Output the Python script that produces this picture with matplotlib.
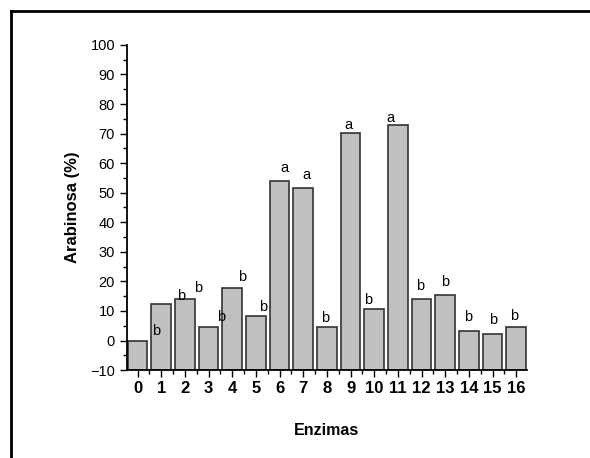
import matplotlib.pyplot as plt
from matplotlib.ticker import MultipleLocator
from matplotlib.lines import Line2D

plt.rcParams['font.family'] = ['Liberation Sans', 'DejaVu Sans']

# datos
enzimas = list(range(17))
arabinosa = [0.0, 12.4, 14.2, 4.6, 17.6, 8.3, 53.8, 51.7, 4.5, 70.3,
             10.8, 72.8, 13.9, 15.4, 3.2, 2.3, 4.5]
letras = ['b', 'b', 'b', 'b', 'b', 'b', 'a', 'a', 'b', 'a',
          'b', 'a', 'b', 'b', 'b', 'b', 'b']

# posiciones de las letras (x, y) en unidades de los datos
pos_letras = [(0.80, 3.3), (1.86, 15.1), (2.57, 17.8), (3.54, 8.0),
              (4.43, 21.5), (5.32, 11.4), (6.20, 58.5), (7.13, 55.9),
              (7.93, 7.7), (8.90, 73.0), (9.75, 13.7), (10.67, 75.3),
              (11.96, 18.5), (13.00, 19.8), (13.97, 8.1), (15.02, 6.9),
              (15.90, 8.2)]

fig = plt.figure(figsize=(5.9, 4.58), dpi=100)
ax = fig.add_axes([0.215, 0.192, 0.678, 0.71])

base = -10
ax.bar(enzimas, [v - base for v in arabinosa], bottom=base, width=0.84,
       color='#c0c0c0', edgecolor='#333333', linewidth=1.2)

for letra, (x, y) in zip(letras, pos_letras):
    ax.text(x, y, letra, ha='center', va='center', fontsize=10.5)

ax.set_xlim(-0.45, 16.45)
ax.set_ylim(-10, 100)
ax.set_xticks(enzimas)
ax.set_xticklabels([str(e) for e in enzimas], fontweight='bold', fontsize=12)
ax.xaxis.set_minor_locator(MultipleLocator(0.5))
ax.yaxis.set_major_locator(MultipleLocator(10))
ax.yaxis.set_minor_locator(MultipleLocator(5))
ax.tick_params(axis='both', which='major', direction='out', length=5, width=1)
ax.tick_params(axis='both', which='minor', direction='out', length=3, width=1)
ax.tick_params(axis='y', labelsize=10.5)
ax.tick_params(axis='x', pad=3)

for s in ['top', 'right']:
    ax.spines[s].set_visible(False)
for s in ['left', 'bottom']:
    ax.spines[s].set_linewidth(1.3)

ax.set_ylabel('Arabinosa (%)', fontweight='bold', fontsize=12, labelpad=7)
ax.set_xlabel('Enzimas', fontweight='bold', fontsize=11.5, labelpad=19)

# marco de la figura (arriba e izquierda)
fig.add_artist(Line2D([11 / 590, 1.0], [1 - 11 / 458, 1 - 11 / 458],
                      transform=fig.transFigure, color='black', linewidth=2))
fig.add_artist(Line2D([11 / 590, 11 / 590], [0.0, 1 - 11 / 458],
                      transform=fig.transFigure, color='black', linewidth=2))

fig.savefig('out.png', dpi=100)
